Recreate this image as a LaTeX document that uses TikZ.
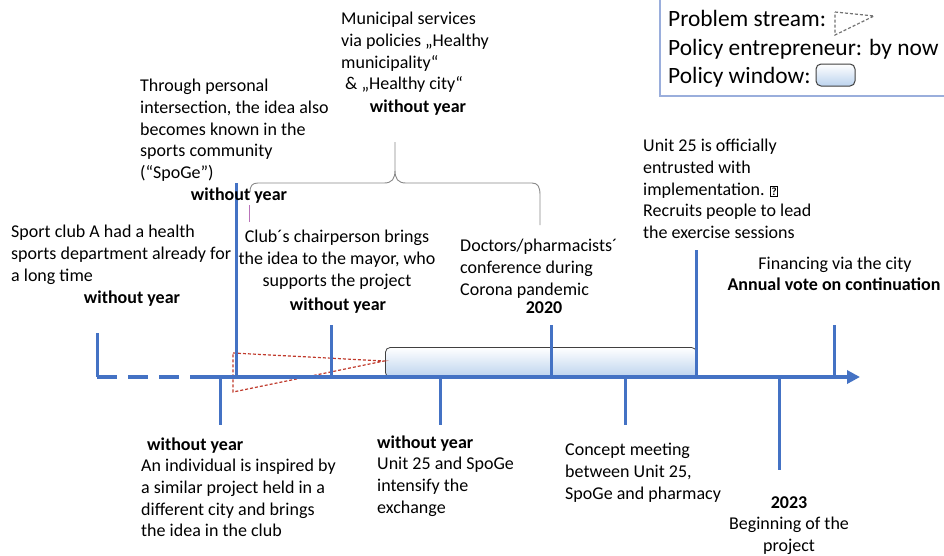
\documentclass[tikz,border=0pt]{standalone}
\usepackage{fontspec}
\setmainfont{Carlito}
\usetikzlibrary{arrows.meta}
\definecolor{tlblue}{HTML}{4472C4}
\definecolor{wintop}{HTML}{FFFFFF}
\definecolor{winbot}{HTML}{BCD3EE}
\definecolor{legframe}{HTML}{9AAEDC}
\definecolor{bracegray}{HTML}{8A8A8A}
\definecolor{probred}{HTML}{C0392B}
\tikzset{
  txt/.style={font=\fontsize{18}{21.7}\selectfont, inner sep=0pt, align=left, anchor=north west},
  ctxt/.style={font=\fontsize{18}{21.7}\selectfont, inner sep=0pt, align=center, anchor=north},
  yr/.style={font=\fontsize{18}{21.7}\selectfont\bfseries, inner sep=0pt, anchor=base},
  yrl/.style={font=\fontsize{18}{21.7}\selectfont\bfseries, inner sep=0pt, anchor=base west},
  leg/.style={font=\fontsize{23.4}{27}\selectfont, inner sep=0pt, anchor=base west},
  tick/.style={draw=tlblue, line width=3pt},
  axisline/.style={draw=tlblue, line width=4pt},
  window/.style={draw=black!75, line width=0.8pt, rounded corners=5pt, top color=wintop, bottom color=winbot},
  problem/.style={draw=probred, densely dashed, line width=1.2pt},
}
\begin{document}
\begin{tikzpicture}[x=1pt,y=-1pt]
\useasboundingbox[fill=white] (0,0) rectangle (944,555);

% legend
\draw[draw=legframe, line width=2.5pt] (660,-10) rectangle (960,96);
\node[leg] (lg1) at (668,26) {Problem stream:};
\draw[problem, draw=black!55] (835,12) -- (874,16) -- (835,35) -- cycle;
\node[leg] (lg2) at (668,55) {Policy entrepreneur: by now};
\node[leg] (lg3) at (668,83) {Policy window:};
\draw[window, line width=1pt] (816,64) rectangle (855,86);

% policy window and problem stream
\node[window, minimum width=311pt, minimum height=30pt, inner sep=0pt, anchor=north west] (win) at (385,347) {};
\draw[problem] (233,353) -- (384,361) -- (233,392) -- cycle;

% axis
\coordinate (a0) at (97,377);
\coordinate (a1) at (206,377);
\coordinate (a2) at (860,377);
\draw[axisline, dash pattern=on 20pt off 11pt] (a0) -- (a1);
\draw[axisline, -{Triangle[length=13pt,width=13pt]}] (a1) -- (a2);

% ticks above
\coordinate (t1) at (97,333);   \draw[tick] (t1) -- (97,377);
\coordinate (t2) at (236,183);  \draw[tick] (t2) -- (236,377);
\coordinate (t3) at (331,325);  \draw[tick] (t3) -- (331,377);
\coordinate (t4) at (551,325);  \draw[tick] (t4) -- (551,377);
\coordinate (t5) at (696,250);  \draw[tick] (t5) -- (696,377);
\coordinate (t6) at (834,325);  \draw[tick] (t6) -- (834,377);
% ticks below
\coordinate (b1) at (220,425);  \draw[tick] (220,377) -- (b1);
\coordinate (b2) at (440,425);  \draw[tick] (440,377) -- (b2);
\coordinate (b3) at (625,425);  \draw[tick] (625,377) -- (b3);
\coordinate (b4) at (779,470);  \draw[tick] (779,377) -- (b4);

% brace
\draw[draw=bracegray, line width=0.9pt]
  (250,192) .. controls (250,186) and (252,183) .. (258,183) -- (384,183)
  .. controls (392,183) and (395,179) .. (395,170) -- (395,142)
  -- (395,170) .. controls (395,179) and (398,183) .. (406,183) -- (532,183)
  .. controls (538,183) and (540,187) .. (540,195) -- (540,225);
\draw[draw=violet!55, line width=0.9pt] (249,205) -- (249,222);

% texts above
\node[txt] (sport) at (11,225) {Sport club A had a health\\sports department already for\\a long time};
\node[yr] (sportyr) at (132,303) {without year};

\node[txt] (through) at (140,79) {Through personal\\intersection, the idea also\\becomes known in the\\sports community\\(“SpoGe”)};
\node[yr] (throughyr) at (239,200) {without year};

\node[txt] (muni) at (341,12) {Municipal services\\via policies „Healthy\\municipality“\\\hspace{4pt}\& „Healthy city“};
\node[yr] (muniyr) at (418,112) {without year};

\node[ctxt] (club) at (337,230) {Club´s chairperson brings\\the idea to the mayor, who\\supports the project};
\node[yr] (clubyr) at (338,310) {without year};

\node[txt] (doc) at (460,239) {Doctors/pharmacists´\\conference during\\Corona pandemic};
\node[yr] (docyr) at (544,313) {2020};

\node[txt] (unit) at (643,139) {Unit 25 is officially\\entrusted with\\implementation. {\fboxsep=0.6pt\fboxrule=0.8pt\fbox{\fontsize{11}{11}\selectfont\bfseries ?}}\\Recruits people to lead\\the exercise sessions};

\node[ctxt, anchor=base] (fin) at (835,269) {Financing via the city};
\node[yr] (finyr) at (834,290) {Annual vote on continuation};

% texts below
\node[yrl] (indyr) at (147,450) {without year};
\node[txt] (ind) at (141,459) {An individual is inspired by\\a similar project held in a\\different city and brings\\the idea in the club};

\node[yrl] (exyr) at (377,448) {without year};
\node[txt] (ex) at (377,457) {Unit 25 and SpoGe\\intensify the\\exchange};

\node[txt] (concept) at (565,443) {Concept meeting\\between Unit 25,\\SpoGe and pharmacy};

\node[yr] (begyr) at (789,508) {2023};
\node[ctxt] (beg) at (789,517) {Beginning of the\\project};
\end{tikzpicture}
\end{document}
